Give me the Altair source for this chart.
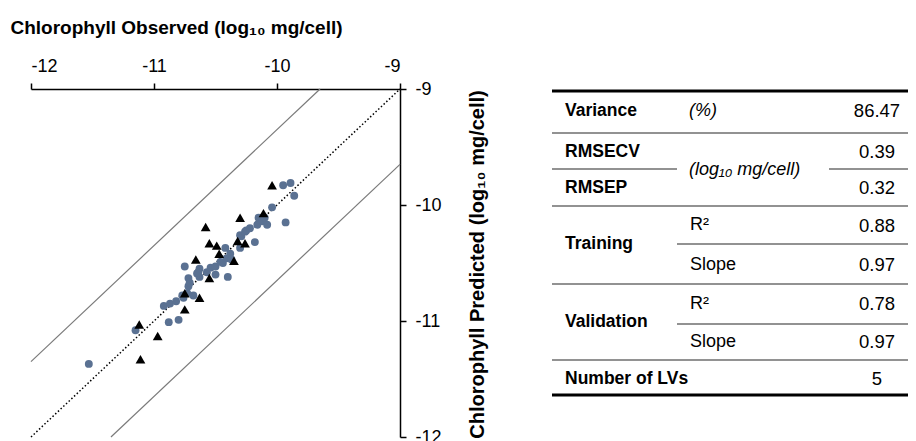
import altair as alt
import pandas as pd

# ---- data ----
obs_cal = [-11.53, -11.15, -10.88, -10.80, -10.92, -10.87, -10.82, -10.77, -10.72, -10.68,
           -10.73, -10.76, -10.75, -10.72, -10.71, -10.65, -10.63, -10.63, -10.64, -10.57,
           -10.54, -10.50, -10.50, -10.46, -10.44, -10.41, -10.40, -10.42, -10.38, -10.37,
           -10.30, -10.29, -10.30, -10.26, -10.25, -10.22, -10.18, -10.16, -10.15, -10.12,
           -10.08, -10.10, -10.04, -9.93, -9.95, -9.89, -9.86]
pred_cal = [-11.37, -11.08, -11.01, -10.99, -10.87, -10.85, -10.83, -10.78, -10.70, -10.78,
            -10.76, -10.80, -10.53, -10.63, -10.67, -10.59, -10.55, -10.62, -10.58, -10.58,
            -10.54, -10.53, -10.60, -10.49, -10.50, -10.46, -10.62, -10.37, -10.42, -10.47,
            -10.37, -10.27, -10.26, -10.23, -10.22, -10.20, -10.32, -10.17, -10.11, -10.14,
            -10.17, -10.11, -10.02, -10.15, -9.83, -9.81, -9.92]
obs_val = [-11.11, -11.12, -10.97, -10.75, -10.63, -10.75, -10.66, -10.55, -10.58, -10.55,
           -10.49, -10.47, -10.35, -10.32, -10.26, -10.30, -10.11, -10.04]
pred_val = [-11.33, -11.03, -11.13, -10.90, -10.80, -10.76, -10.47, -10.63, -10.19, -10.33,
            -10.35, -10.42, -10.48, -10.31, -10.33, -10.11, -10.07, -9.83]
axis_min, axis_max = -12, -9
band_offset = 0.65
axis_ticks = [-12, -11, -10, -9]

x_title = "Chlorophyll  Observed (log\u2081\u2080 mg/cell)"
y_title = "Chlorophyll Predicted (log\u2081\u2080 mg/cell)"

table_labels = ["Variance", "RMSECV", "RMSEP", "Training", "Validation", "Number of LVs"]
table_units = ["(%)", "(log\u2081\u2080 mg/cell)"]
table_sub = ["R\u00b2", "Slope", "R\u00b2", "Slope"]
table_values = ["86.47", "0.39", "0.32", "0.88", "0.97", "0.78", "0.97", "5"]

FONT = "Liberation Sans"
OX, OY = 31, 89  # page position of plot origin

cal = pd.DataFrame({"obs": obs_cal, "pred": pred_cal})
val = pd.DataFrame({"obs": obs_val, "pred": pred_val})

lines = pd.DataFrame({
    "obs": [axis_min, axis_max,
            axis_min, axis_max - band_offset,
            axis_min + band_offset, axis_max],
    "pred": [axis_min, axis_max,
             axis_min + band_offset, axis_max,
             axis_min, axis_max - band_offset],
    "line": ["id", "id", "up", "up", "lo", "lo"],
})

xs = alt.Scale(domain=[axis_min, axis_max], nice=False, zero=False)
ys = alt.Scale(domain=[axis_min, axis_max], nice=False, zero=False)

axis_common = dict(values=axis_ticks, labelExpr="'' + datum.value", grid=False,
                   domainColor="black", domainWidth=1.5, tickColor="black", tickWidth=1.5,
                   tickSize=6, labelFont=FONT, labelFontSize=18, labelColor="black",
                   titleFont=FONT, titleFontWeight="bold", titleColor="black")

x_enc = alt.X("obs:Q", scale=xs, axis=alt.Axis(
    orient="top", title=x_title, titleX=-21, titleY=-56, titleAlign="left",
    titleAnchor="start", titleBaseline="alphabetic", titleFontSize=19,
    labelPadding=8, **axis_common))
y_enc = alt.Y("pred:Q", scale=ys, axis=alt.Axis(
    orient="right", title=y_title, titleAngle=270, titleX=77, titleY=175,
    titleAlign="center", titleBaseline="middle", titleFontSize=20,
    labelPadding=9, **axis_common))

id_line = alt.Chart(lines[lines.line == "id"]).mark_line(
    color="black", strokeWidth=1.5, strokeDash=[1.5, 2.2]).encode(x=x_enc, y=y_enc)
band_lines = alt.Chart(lines[lines.line != "id"]).mark_line(
    color="#7a7a7a", strokeWidth=1.2).encode(x="obs:Q", y="pred:Q", detail="line:N")
cal_pts = alt.Chart(cal).mark_point(filled=True, shape="circle", size=62, opacity=1,
                                    color="#5a7192").encode(x="obs:Q", y="pred:Q")
val_pts = alt.Chart(val).mark_point(filled=True, shape="triangle-up", size=95, opacity=1,
                                    color="black").encode(x="obs:Q", y="pred:Q")

one = alt.Data(values=[{"a": 1}])


def rule(x1, x2, y, width=1.5, color="#6e6e6e"):
    return alt.Chart(one).mark_rule(color=color, strokeWidth=width).encode(
        x=alt.value(x1 - OX), x2=alt.value(x2 - OX), y=alt.value(y - OY))


def txt(s, x, y, align="left", weight="normal", style="normal", size=18):
    return alt.Chart(one).mark_text(
        text=s, align=align, baseline="middle", font=FONT, fontSize=size,
        fontWeight=weight, fontStyle=style, color="black").encode(
        x=alt.value(x - OX), y=alt.value(y - OY))


TL, TR = 552, 916
table_layers = [
    rule(TL, TR, 91, 3, "black"),
    rule(TL, TR, 133),
    rule(TL, 677, 169), rule(829, TR, 169),
    rule(TL, TR, 206),
    rule(677, TR, 244),
    rule(TL, TR, 284),
    rule(677, TR, 324),
    rule(TL, TR, 360),
    rule(TL, TR, 395, 3, "black"),
]
label_y = [111, 152, 188, 244, 322, 379]
for s, yy in zip(table_labels, label_y):
    table_layers.append(txt(s, 565, yy, weight="bold", size=17.5))
table_layers.append(txt(table_units[0], 689, 111, style="italic"))
table_layers.append(txt(table_units[1], 689, 170, style="italic"))
for s, yy in zip(table_sub, [225, 265, 304, 342]):
    table_layers.append(txt(s, 690, yy))
for s, yy in zip(table_values, [111, 152, 188, 226, 265, 304, 342, 379]):
    table_layers.append(txt(s, 877, yy, align="center", size=18.5))

chart = alt.layer(id_line, band_lines, cal_pts, val_pts, *table_layers).properties(
    width=369, height=348,
    autosize=alt.AutoSizeParams(type="none"),
    padding={"left": 23, "top": 81, "right": 508, "bottom": 4},
).configure_view(stroke=None)

chart.save("out.html", embed_options={"renderer": "svg", "actions": False})
